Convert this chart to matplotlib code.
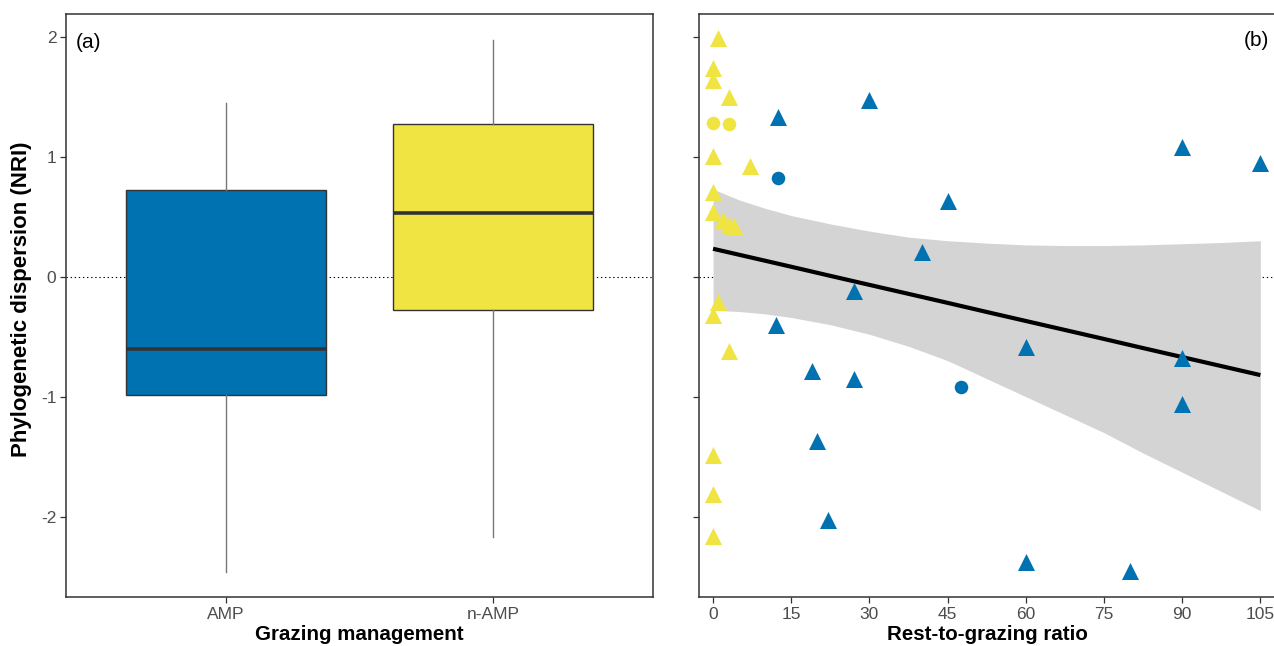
import matplotlib
matplotlib.use("Agg")
import matplotlib.pyplot as plt
import numpy as np

plt.rcParams['font.family'] = ['Liberation Sans', 'DejaVu Sans']

# ---- data ----
groups = ["AMP", "n-AMP"]
box_colors = ["#0072B2", "#F0E442"]
# whisker low, Q1, median, Q3, whisker high
amp_stats = [-2.46, -0.99, -0.60, 0.72, 1.45]
namp_stats = [-2.17, -0.28, 0.53, 1.27, 1.97]

# panel (b) points
namp_tri_x = [1, 0, 0, 3, 0, 7, 0, 0, 2, 3, 4, 1, 0, 3, 0, 0, 0]
namp_tri_y = [1.99, 1.74, 1.64, 1.50, 1.01, 0.92, 0.71, 0.54, 0.47, 0.43, 0.42,
              -0.21, -0.32, -0.62, -1.49, -1.81, -2.16]
namp_cir_x = [0, 3]
namp_cir_y = [1.28, 1.27]

amp_tri_x = [12.5, 30, 45, 40, 27, 12, 19, 27, 60, 90, 90, 20, 22, 60, 80, 90, 105]
amp_tri_y = [1.33, 1.47, 0.63, 0.21, -0.12, -0.40, -0.79, -0.85, -0.59, -0.68,
             -1.06, -1.37, -2.03, -2.38, -2.45, 1.08, 0.95]
amp_cir_x = [12.5, 47.5]
amp_cir_y = [0.82, -0.92]

# fitted line and 95% band
fit_x = [0, 5, 10, 15, 22.5, 30, 37.5, 45, 52.5, 60, 67.5, 75, 82.5, 90, 97.5, 105]
fit_y = [0.233, 0.183, 0.133, 0.083, 0.007, -0.068, -0.143, -0.218, -0.294, -0.369,
         -0.444, -0.519, -0.595, -0.670, -0.745, -0.820]
band_hi = [0.73, 0.64, 0.57, 0.51, 0.44, 0.38, 0.33, 0.30, 0.28, 0.265,
           0.26, 0.26, 0.265, 0.275, 0.285, 0.30]
band_lo = [-0.28, -0.29, -0.31, -0.34, -0.40, -0.48, -0.58, -0.70, -0.85, -1.00,
           -1.15, -1.30, -1.47, -1.63, -1.79, -1.95]

x_ticks = [0, 15, 30, 45, 60, 75, 90, 105]
y_ticks = [-2, -1, 0, 1, 2]

W, H = 1274, 646
fig = plt.figure(figsize=(W / 100, H / 100), dpi=100)
axA = fig.add_axes([66 / W, 1 - 597 / H, 587 / W, 583 / H])
axB = fig.add_axes([699 / W, 1 - 597 / H, 577 / W, 583 / H])

spine_col = "#333333"
tick_col = "#4D4D4D"

for ax in (axA, axB):
    for s in ax.spines.values():
        s.set_color(spine_col)
        s.set_linewidth(1.1)
    ax.set_ylim(-2.67, 2.19)
    ax.set_yticks(y_ticks)
    ax.tick_params(axis="both", direction="out", length=4, width=0.9,
                   color=spine_col, labelcolor=tick_col, labelsize=12.5, pad=3)
    ax.axhline(0, color="black", lw=0.8, ls=(0, (1.2, 2.5)), zorder=1)

# ---- panel (a) ----
stats = []
for g, s in zip(groups, [amp_stats, namp_stats]):
    stats.append(dict(label=g, whislo=s[0], q1=s[1], med=s[2], q3=s[3], whishi=s[4], fliers=[]))
bp = axA.bxp(stats, positions=[1, 2], widths=0.75, patch_artist=True, showcaps=False,
             boxprops=dict(edgecolor=spine_col, linewidth=1.0),
             medianprops=dict(color="#333333", linewidth=2.6),
             whiskerprops=dict(color="#777777", linewidth=1.0), zorder=2)
for patch, c in zip(bp["boxes"], box_colors):
    patch.set_facecolor(c)
axA.set_xlim(0.4, 2.6)
axA.set_yticklabels([str(v) for v in y_ticks])
axA.set_xlabel("Grazing management", fontsize=14.8, fontweight="bold", labelpad=2)
axA.set_ylabel("Phylogenetic dispersion (NRI)", fontsize=16, fontweight="bold")
axA.yaxis.set_label_coords(-(66 - 32) / 587, 0.51)
axA.text(76 / W, 1 - 43 / H, "(a)", transform=fig.transFigure, fontsize=15,
         va="center", ha="left")

# ---- panel (b) ----
axB.fill_between(fit_x, band_lo, band_hi, color="#D4D4D4", lw=0, zorder=1)
axB.plot(fit_x, fit_y, color="black", lw=3.0, zorder=2, solid_capstyle="butt")
axB.scatter(namp_tri_x, namp_tri_y, marker="^", s=150, color="#F0E442", lw=0, zorder=3)
axB.scatter(namp_cir_x, namp_cir_y, marker="o", s=95, color="#F0E442", lw=0, zorder=3)
axB.scatter(amp_tri_x, amp_tri_y, marker="^", s=150, color="#0072B2", lw=0, zorder=3)
axB.scatter(amp_cir_x, amp_cir_y, marker="o", s=95, color="#0072B2", lw=0, zorder=3)
axB.set_xlim(-2.7, 108.0)
axB.set_xticks(x_ticks)
axB.set_yticklabels([])
axB.spines["right"].set_visible(False)
axB.set_xlabel("Rest-to-grazing ratio", fontsize=14.8, fontweight="bold", labelpad=2)
axB.text(1244 / W, 1 - 41 / H, "(b)", transform=fig.transFigure, fontsize=15,
         va="center", ha="left")

fig.savefig("out.png", dpi=100)
